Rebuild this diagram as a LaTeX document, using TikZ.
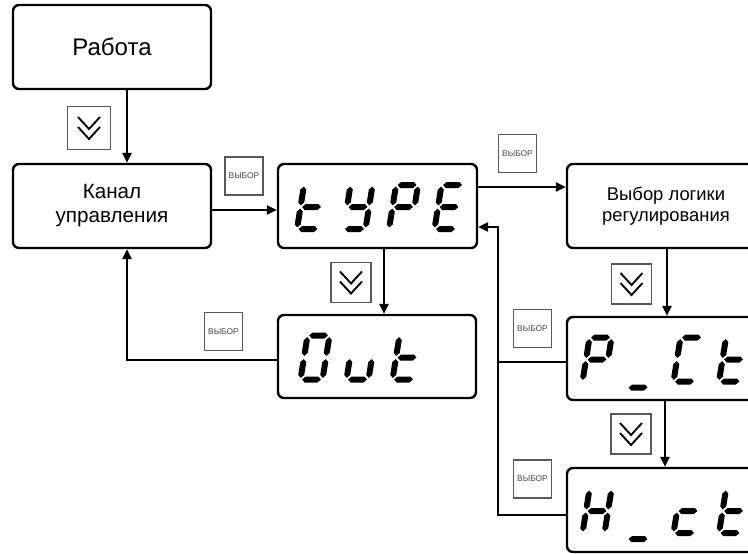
\documentclass[tikz,border=0pt]{standalone}
\usepackage{fontspec}
\setmainfont{Liberation Sans}
\usetikzlibrary{arrows.meta,calc}
\newcommand\segH[3]{\fill (#1,#3) -- (#1+3,#3+3) -- (#2-3,#3+3) -- (#2,#3) -- (#2-3,#3-3) -- (#1+3,#3-3) -- cycle;}
\newcommand\segV[3]{\fill (#1,#2) -- (#1+3,#2+3) -- (#1+3,#3-3) -- (#1,#3) -- (#1-3,#3-3) -- (#1-3,#2+3) -- cycle;}
\newcommand\sgA{\segH{1.6}{20.4}{44}}
\newcommand\sgB{\segV{22}{23.6}{42.4}}
\newcommand\sgC{\segV{22}{1.6}{20.4}}
\newcommand\sgD{\segH{1.6}{20.4}{0}}
\newcommand\sgE{\segV{0}{1.6}{20.4}}
\newcommand\sgF{\segV{0}{23.6}{42.4}}
\newcommand\sgG{\segH{1.6}{20.4}{22}}
\newcommand\sgU{\segH{1.6}{20.4}{-6}}
\newcommand\glyph[3]{\begin{scope}[shift={(#1,#2)},x=0.75pt,y=0.75pt,xslant=0.16]#3\end{scope}}
\begin{document}
\begin{tikzpicture}[x=0.75pt,y=-0.75pt,
  box/.style={draw,line width=1.8pt,rounded corners=4.5pt,minimum width=148.5pt,minimum height=63pt,inner sep=0pt,align=center},
  vbtn/.style={draw=black!65,line width=0.8pt,minimum size=28.5pt,inner sep=0pt,text=black!70,font=\fontsize{6.3}{7}\selectfont},
  dbtn/.style={draw=black!65,line width=0.8pt,minimum size=30pt,inner sep=0pt},
  chev/.style={line width=1.4pt},
  arr/.style={line width=1.4pt,-{Triangle[length=7.5pt,width=7pt]}},
  conn/.style={line width=1.4pt}]
\useasboundingbox (0,0) rectangle (748,553);
\clip (0,0) rectangle (748,553);
% main boxes
\node[box,font=\fontsize{18}{21}\selectfont] (rab) at (112,47) {Работа};
\node[box,font=\fontsize{15.5}{18}\selectfont] (kan) at (112,206) {Канал\\управления};
\node[box,minimum width=149.25pt] (type) at (377.5,206) {};
\node[box,minimum height=62.25pt] (out) at (377,356.5) {};
\node[box,font=\fontsize{13.8}{16}\selectfont] (vyb) at (666,206) {Выбор логики\\регулирования};
\node[box,minimum height=62.25pt] (pct) at (666,358.5) {};
\node[box] (hct) at (666,510) {};
% seven-segment texts
\glyph{297}{229}{\sgD\sgE\sgF\sgG}
\glyph{343.5}{229}{\sgB\sgC\sgD\sgF\sgG}
\glyph{389}{229}{\sgA\sgB\sgE\sgF\sgG}
\glyph{434.5}{229}{\sgA\sgD\sgE\sgF\sgG}
\glyph{300.5}{379.5}{\sgA\sgB\sgC\sgD\sgE\sgF}
\glyph{346.5}{379.5}{\sgC\sgD\sgE}
\glyph{392.5}{379.5}{\sgD\sgE\sgF\sgG}
\glyph{582.5}{381.5}{\sgA\sgB\sgE\sgF\sgG}
\glyph{628}{381.5}{\sgU}
\glyph{673.5}{381.5}{\sgA\sgD\sgE\sgF}
\glyph{719}{381.5}{\sgD\sgE\sgF\sgG}
\glyph{582.5}{533}{\sgB\sgC\sgE\sgF\sgG}
\glyph{628}{533}{\sgU}
\glyph{673.5}{533}{\sgD\sgE\sgG}
\glyph{719}{533}{\sgD\sgE\sgF\sgG}
% buttons
\node[vbtn] (vb1) at (244,176) {ВЫБОР};
\node[vbtn] (vb2) at (223.5,331.5) {ВЫБОР};
\node[vbtn] (vb3) at (517.5,153.5) {ВЫБОР};
\node[vbtn] (vb4) at (532.5,328.5) {ВЫБОР};
\node[vbtn] (vb5) at (532.5,479) {ВЫБОР};
\node[dbtn,minimum size=32pt] (dn1) at (89,128) {};
\node[dbtn] (dn2) at (351,282.5) {};
\node[dbtn] (dn3) at (631.5,284) {};
\node[dbtn] (dn4) at (631,434) {};
\foreach \d in {dn1,dn2,dn3,dn4}{
  \draw[chev] (\d) ++(-11,-11) -- ++(11,12) -- ++(11,-12);
  \draw[chev] (\d) ++(-11,-1) -- ++(11,12) -- ++(11,-12);
}
% connectors
\draw[arr] ($(rab.south)+(15,0)$) -- ($(kan.north)+(15,0)$);
\draw[arr] ($(kan.east)+(0,4)$) -- ($(type.west)+(0,4)$);
\draw[arr] ($(type.east)+(0,-19)$) -- ($(vyb.west)+(0,-19)$);
\draw[arr] ($(type.south)+(6.5,0)$) -- ($(out.north)+(7,0)$);
\draw[arr] ($(out.west)+(0,3.5)$) -| ($(kan.south)+(15,0)$);
\draw[arr] ($(vyb.south)+(1,0)$) -- ($(pct.north)+(1,0)$);
\draw[arr] ($(pct.south)+(-1,0)$) -- ($(hct.north)+(-1,0)$);
\coordinate (fb) at (498,227);
\coordinate (pj) at ($(pct.west)+(0,3.5)$);
\draw[arr] ($(hct.west)+(0,5)$) -| (fb) -- (type.east |- fb);
\draw[conn] (pj) -- (pj -| fb);
\end{tikzpicture}
\end{document}
